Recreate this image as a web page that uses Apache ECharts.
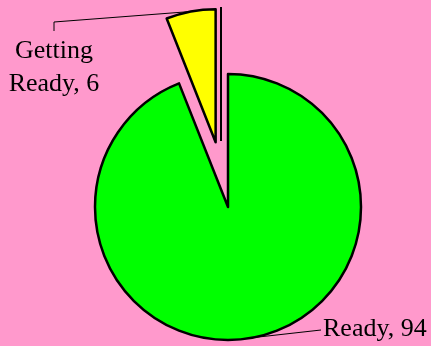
<!DOCTYPE html>
<html>
<head>
<meta charset="utf-8">
<script src="https://cdn.jsdelivr.net/npm/echarts@6/dist/echarts.min.js"></script>
<style>
  html, body { margin: 0; padding: 0; background: #ff99cc; }
  #chart { width: 431px; height: 346px; }
</style>
</head>
<body>
<div id="chart"></div>
<script>
  var categories = ['Ready', 'Getting Ready']
  var values = [94, 6]
  var colors = ['#00ff00', '#ffff00']

  var chart = echarts.init(document.getElementById('chart'))

  var cx = 228, cy = 207, r = 133, explode = 66
  var total = values[0] + values[1]
  // mid angle of the small slice (degrees, counter-clockwise from +x)
  var mid = (90 + values[1] / total * 180) * Math.PI / 180
  var ex = cx + explode * Math.cos(mid)
  var ey = cy - explode * Math.sin(mid)

  // one series per slice: the other slice is kept as an invisible gap
  function sliceData (show) {
    return categories.map(function (name, i) {
      if (i !== show) {
        return {
          name: name, value: values[i],
          itemStyle: { color: 'transparent', borderWidth: 0 },
          label: { show: false }, labelLine: { show: false }
        }
      }
      return { name: name, value: values[i], itemStyle: { color: colors[i] } }
    })
  }

  var labelStyle = {
    show: true,
    position: 'outside',
    formatter: function (p) {
      // long name wraps onto two lines
      return p.name.replace(' ', '\n') + ', ' + p.value
    },
    fontFamily: 'Liberation Serif',
    fontSize: 26,
    lineHeight: 33,
    align: 'center',
    color: '#000'
  }

  // where each label sits and how its leader line bends
  var labelPos = [
    { x: 323, y: 329, align: 'left', bend: [[321, 330], [321, 330]] },
    { x: 54, y: 68, align: 'center', bend: [[54, 22], [54, 31]] }
  ]

  function pie (center, show) {
    return {
      type: 'pie',
      center: center,
      radius: r,
      startAngle: 90,
      clockwise: true,
      silent: true,
      emphasis: { disabled: true },
      itemStyle: { borderColor: '#000', borderWidth: 2.5 },
      label: labelStyle,
      labelLine: { show: true, lineStyle: { color: '#000', width: 1 } },
      labelLayout: function (params) {
        if (params.dataIndex !== show || !params.labelLinePoints) return {}
        var lp = labelPos[show]
        return {
          x: lp.x, y: lp.y, align: lp.align, verticalAlign: 'middle',
          labelLinePoints: [params.labelLinePoints[0]].concat(lp.bend)
        }
      },
      data: sliceData(show)
    }
  }

  chart.setOption({
    backgroundColor: '#ff99cc',
    animation: false,
    series: [pie([cx, cy], 0), pie([ex, ey], 1)],
    graphic: [{
      type: 'line',
      shape: { x1: 221, y1: 7, x2: 221, y2: 141 },
      style: { stroke: '#000', lineWidth: 2 }
    }]
  })
</script>
</body>
</html>
